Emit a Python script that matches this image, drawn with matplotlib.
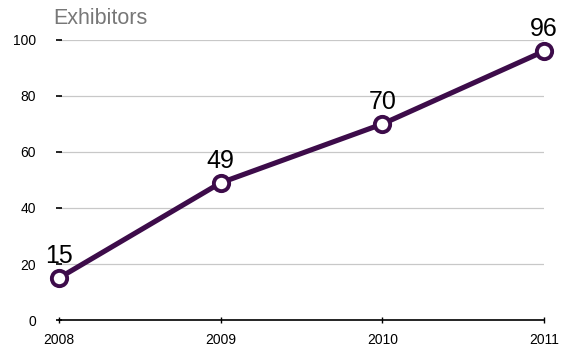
import matplotlib
matplotlib.use("Agg")
import matplotlib.pyplot as plt

years = [2008, 2009, 2010, 2011]
exhibitors = [15, 49, 70, 96]
y_ticks = [0, 20, 40, 60, 80, 100]
title = "Exhibitors"

plt.rcParams['font.family'] = ['Liberation Sans', 'DejaVu Sans']
color = '#3d0c4a'

fig = plt.figure(figsize=(5.64, 3.47), dpi=100)
ax = fig.add_axes([59/564, 1-320/347, (544-59)/564, (320-40)/347])
ax.set_xlim(years[0], years[-1])
ax.set_ylim(0, 100)

ax.plot(years, exhibitors, color=color, lw=3.7, marker='o', ms=11,
        mfc='white', mec=color, mew=2.8, clip_on=False, zorder=5)
for x, y in zip(years, exhibitors):
    ax.annotate(str(y), (x, y), xytext=(0, 7), textcoords='offset points',
                ha='center', va='bottom', fontsize=18, color='black', zorder=6)

ax.set_yticks(y_ticks)
ax.set_xticks(years)
ax.set_xticklabels([str(y) for y in years])
ax.yaxis.grid(True, color='#c8c8c8', lw=0.9)
ax.set_axisbelow(True)
for s in ['left', 'right', 'top']:
    ax.spines[s].set_visible(False)
ax.spines['bottom'].set_color('black')
ax.spines['bottom'].set_linewidth(1.2)
ax.tick_params(axis='y', direction='inout', length=5, width=1.2, labelsize=10, pad=14)
ax.tick_params(axis='x', direction='inout', length=5, width=1, labelsize=10, pad=7)

fig.text(53/564, 1-18/347, title, fontsize=15.5, color='#777777',
         ha='left', va='center')

fig.savefig('out.png', dpi=100)
